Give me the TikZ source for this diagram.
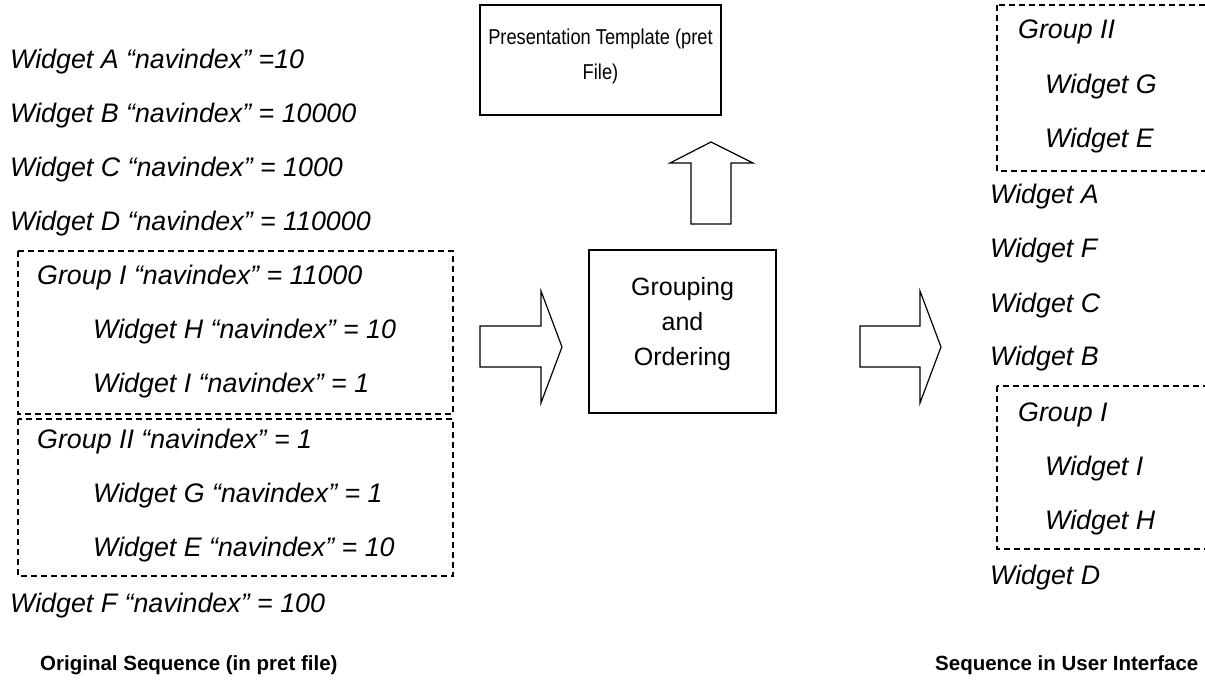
\documentclass[tikz,border=0pt]{standalone}
\usepackage{fontspec}
\usepackage{graphicx}
\setmainfont{Liberation Sans}
\usetikzlibrary{positioning}

\begin{document}
\begin{tikzpicture}[x=1pt, y=-1pt,
  item/.style = {anchor=west, inner sep=0pt,
    font=\fontsize{26.8}{30}\selectfont\itshape},
  box/.style = {draw, line width=1.2pt},
  txt/.style = {align=center, inner sep=0pt},
  grp/.style = {draw, line width=1.2pt, dash pattern=on 6pt off 4pt},
  blk/.style = {draw, line width=1.2pt, fill=white},
  caption/.style = {anchor=west, inner sep=0pt,
    font=\fontsize{20.5}{24}\selectfont\bfseries}
  ]
  \clip (0,0) rectangle (1205,700);

  % original sequence
  \node (wA) [item] at (10,62) {Widget A “navindex” =10};
  \node (wB) [item] at (10,116) {Widget B “navindex” = 10000};
  \node (wC) [item] at (10,170) {Widget C “navindex” = 1000};
  \node (wD) [item] at (10,224) {Widget D “navindex” = 110000};
  \draw [grp] (18,251) rectangle (453,414);
  \node (gI) [item] at (37,278) {Group I “navindex” = 11000};
  \node (wH) [item] at (93,332) {Widget H “navindex” = 10};
  \node (wI) [item] at (93,386) {Widget I “navindex” = 1};
  \draw [grp] (18,419) rectangle (453,576);
  \node (gII) [item] at (37,442) {Group II “navindex” = 1};
  \node (wG) [item] at (93,496) {Widget G “navindex” = 1};
  \node (wE) [item] at (93,550) {Widget E “navindex” = 10};
  \node (wF) [item] at (10,606) {Widget F “navindex” = 100};

  % middle
  \node (tmpl) [box, minimum width=241pt, minimum height=110pt]
    at (600.5,60) {};
  \node (tmplT) [txt, font=\fontsize{21.5}{35}\selectfont]
    at ([yshift=4pt]tmpl.center)
    {\scalebox{0.85}[1]{Presentation Template (pret}\\\scalebox{0.85}[1]{File)}};
  \node (order) [box, minimum width=187pt, minimum height=163pt]
    at (682.5,331.5) {};
  \node (orderT) [txt, font=\fontsize{25}{35}\selectfont]
    at ([yshift=7pt]order.center) {Grouping\\and\\Ordering};

  \draw [blk] (480,326) -- (541,326) -- (541,291) -- (562,347)
    -- (541,403) -- (541,367) -- (480,367) -- cycle;
  \draw [blk] (860,326) -- (920,326) -- (920,291) -- (941,347)
    -- (920,403) -- (920,367) -- (860,367) -- cycle;
  \draw [blk] (691,224) -- (691,163) -- (670,163) -- (711,142)
    -- (753,163) -- (731,163) -- (731,224) -- cycle;

  % sequence in user interface
  \draw [grp] (997,5) rectangle (1220,171);
  \node (rgII) [item] at (1018,32) {Group II};
  \node (rwG) [item] at (1045,87) {Widget G};
  \node (rwE) [item] at (1045,141) {Widget E};
  \node (rwA) [item] at (990,197) {Widget A};
  \node (rwF) [item] at (990,251) {Widget F};
  \node (rwC) [item] at (990,306) {Widget C};
  \node (rwB) [item] at (990,359) {Widget B};
  \draw [grp] (997,386) rectangle (1220,549);
  \node (rgI) [item] at (1018,415) {Group I};
  \node (rwI) [item] at (1045,469) {Widget I};
  \node (rwH) [item] at (1045,523) {Widget H};
  \node (rwD) [item] at (990,578) {Widget D};

  \node (capL) [caption] at (40,665) {Original Sequence (in pret file)};
  \node (capR) [caption] at (935,665) {Sequence in User Interface};
\end{tikzpicture}
\end{document}
